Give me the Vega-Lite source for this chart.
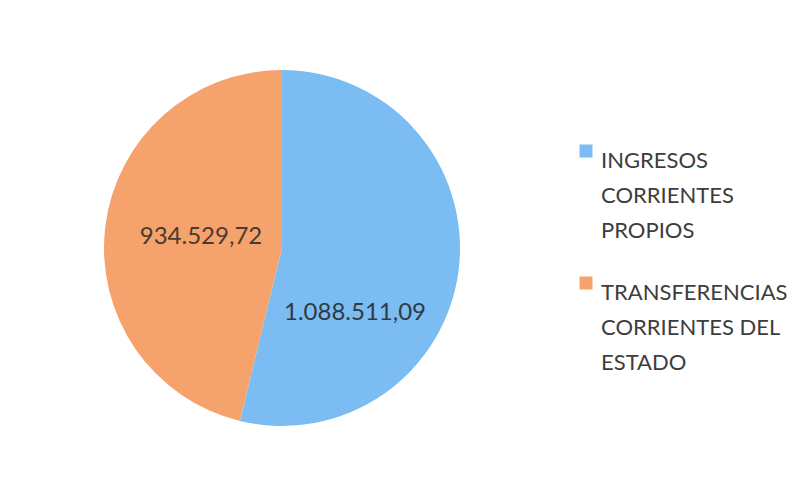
{
  "$schema": "https://vega.github.io/schema/vega-lite/v6.json",
  "width": 564,
  "height": 496,
  "padding": 0,
  "autosize": {"type": "pad"},
  "background": "white",
  "config": {
    "view": {"stroke": null},
    "font": "Lato",
    "style": {"guide-label": {"lineHeight": 35}}
  },
  "data": {
    "values": [
      {"categoria": "INGRESOS CORRIENTES PROPIOS", "valor": 1088511.09, "etiqueta": "1.088.511,09", "orden": 1},
      {"categoria": "TRANSFERENCIAS CORRIENTES DEL ESTADO", "valor": 934529.72, "etiqueta": "934.529,72", "orden": 2}
    ]
  },
  "encoding": {
    "theta": {"field": "valor", "type": "quantitative", "stack": true},
    "order": {"field": "orden", "type": "ordinal"}
  },
  "layer": [
    {
      "mark": {"type": "arc", "outerRadius": 178},
      "encoding": {
        "color": {
          "field": "categoria",
          "type": "nominal",
          "scale": {
            "domain": ["INGRESOS CORRIENTES PROPIOS", "TRANSFERENCIAS CORRIENTES DEL ESTADO"],
            "range": ["#7BBDF3", "#F5A26C"]
          },
          "sort": null,
          "legend": {
            "title": null,
            "orient": "none",
            "legendX": 575,
            "legendY": 140,
            "padding": 0,
            "symbolType": "square",
            "symbolSize": 169,
            "symbolStrokeWidth": 0,
            "labelFont": "Lato",
            "labelFontSize": 22,
            "labelColor": "#3d3d3d",
            "labelLimit": 300,
            "labelOffset": 4,
            "rowPadding": 30,
            "labelBaseline": "top",
            "labelExpr": "datum.label == 'INGRESOS CORRIENTES PROPIOS' ? ['INGRESOS', 'CORRIENTES', 'PROPIOS'] : ['TRANSFERENCIAS', 'CORRIENTES DEL', 'ESTADO']"
          }
        }
      }
    },
    {
      "transform": [{"filter": "datum.orden == 1"}],
      "mark": {"type": "text", "radius": 0, "dx": 73, "dy": 65, "fontSize": 24, "font": "Lato", "color": "#2f3a44"},
      "encoding": {"text": {"field": "etiqueta"}, "theta": {"value": 0}}
    },
    {
      "transform": [{"filter": "datum.orden == 2"}],
      "mark": {"type": "text", "radius": 0, "dx": -81, "dy": -11, "fontSize": 24, "font": "Lato", "color": "#4a3a30"},
      "encoding": {"text": {"field": "etiqueta"}, "theta": {"value": 0}}
    }
  ]
}
